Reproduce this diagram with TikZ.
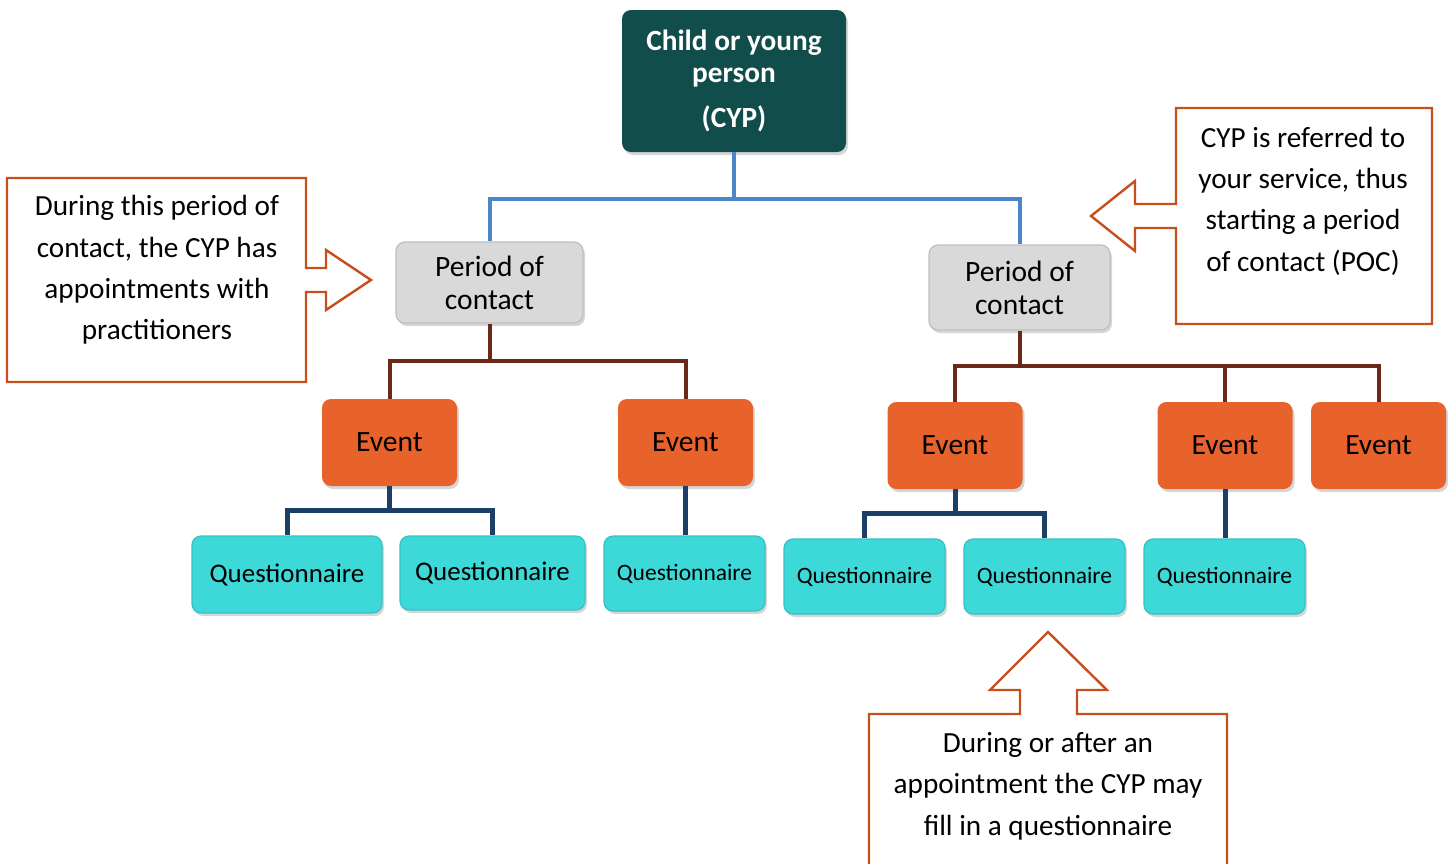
\documentclass[tikz,border=0pt]{standalone}
\usepackage{fontspec}
\setmainfont{Carlito}
\usetikzlibrary{shadows}
\definecolor{cyp}{HTML}{114D4B}
\definecolor{linkblue}{HTML}{4A86C8}
\definecolor{pocfill}{HTML}{D9D9D9}
\definecolor{pocdraw}{HTML}{BFBFBF}
\definecolor{linkbrown}{HTML}{6B2818}
\definecolor{evfill}{HTML}{E8632B}
\definecolor{linkdark}{HTML}{1B3F66}
\definecolor{qfill}{HTML}{3DD8D8}
\definecolor{qdraw}{HTML}{35C2C6}
\definecolor{callout}{HTML}{C5501E}
\tikzset{
  base/.style={rounded corners=9pt, inner sep=0pt, align=center,
    drop shadow={shadow xshift=2pt, shadow yshift=-3pt, opacity=0.35, fill=black!45}},
  cypbox/.style={base, fill=cyp, text=white, minimum width=224pt, minimum height=142pt,
    font=\fontsize{29.3}{32}\selectfont\bfseries},
  pocbox/.style={base, fill=pocfill, draw=pocdraw, line width=1.2pt,
    font=\fontsize{29.5}{33}\selectfont},
  evbox/.style={base, fill=evfill, minimum width=135pt, minimum height=87pt,
    font=\fontsize{29.5}{30}\selectfont},
  qbox/.style={base, fill=qfill, draw=qdraw, line width=1.2pt,
    font=\fontsize{26.9}{30}\selectfont},
  qsmall/.style={qbox, minimum width=161pt, minimum height=75pt,
    font=\fontsize{23.5}{26}\selectfont},
  calloutline/.style={draw=callout, line width=2.4pt, line join=miter},
  callouttext/.style={align=center, inner sep=0pt, font=\fontsize{29.2}{41.3}\selectfont},
  bluelink/.style={draw=linkblue, line width=4pt},
  brownlink/.style={draw=linkbrown, line width=4pt},
  darklink/.style={draw=linkdark, line width=5pt}
}
\begin{document}
\begin{tikzpicture}[x=1pt,y=-1pt]
\useasboundingbox (0,0) rectangle (1453,863);
\clip (0,0) rectangle (1453,863);
\fill[white] (0,0) rectangle (1453,863);

% callouts
\draw[calloutline] (7,178) -- (306,178) -- (306,268) -- (326,268) -- (326,250) -- (371,280)
  -- (326,310) -- (326,292) -- (306,292) -- (306,382) -- (7,382) -- cycle;
\node[callouttext] (lefttext) at (157,270) {During this period of\\contact, the CYP has\\appointments with\\practitioners};

\draw[calloutline] (1176,108) -- (1432,108) -- (1432,324) -- (1176,324) -- (1176,228) -- (1135,228)
  -- (1135,251) -- (1091,216) -- (1135,181) -- (1135,204) -- (1176,204) -- cycle;
\node[callouttext] (righttext) at (1303,201) {CYP is referred to\\your service, thus\\starting a period\\of contact (POC)};

\draw[calloutline] (869,880) -- (869,714) -- (1020,714) -- (1020,690) -- (990,690) -- (1048,632)
  -- (1107,690) -- (1077,690) -- (1077,714) -- (1227,714) -- (1227,880);
\node[callouttext] (bottomtext) at (1048,786) {During or after an\\appointment the CYP may\\fill in a questionnaire};

% nodes
\node[cypbox] (cyp) at (734,81) {Child or young\\person\\[13pt](CYP)};

\node[pocbox, minimum width=187pt, minimum height=81pt] (poc1) at (489.5,282.5) {Period of\\contact};
\node[pocbox, minimum width=181pt, minimum height=85pt] (poc2) at (1019.5,287.5) {Period of\\contact};

\node[evbox] (ev1) at (389.5,442.5) {Event};
\node[evbox] (ev2) at (685.5,442.5) {Event};
\node[evbox] (ev3) at (955,445.5) {Event};
\node[evbox] (ev4) at (1225,445.5) {Event};
\node[evbox] (ev5) at (1378.5,445.5) {Event};

\node[qbox, minimum width=190pt, minimum height=77pt] (q1) at (287,574.5) {Questionnaire};
\node[qbox, minimum width=185pt, minimum height=74pt] (q2) at (492.5,573) {Questionnaire};
\node[qsmall] (q3) at (684.5,573.5) {Questionnaire};
\node[qsmall] (q4) at (864.5,576.5) {Questionnaire};
\node[qsmall] (q5) at (1044.5,576.5) {Questionnaire};
\node[qsmall] (q6) at (1224.5,576.5) {Questionnaire};

% connectors
\coordinate (cypj) at (734,199);
\draw[bluelink] (cyp.south) -- (cypj);
\draw[bluelink] (cypj) -| (poc1.north);
\draw[bluelink] (cypj) -| (poc2.north);

\coordinate (poc1j) at (489.5,361);
\draw[brownlink] (poc1.south) -- (poc1j);
\draw[brownlink] (poc1j) -| (ev1.north);
\draw[brownlink] (poc1j) -| (ev2.north);

\coordinate (poc2j) at (1019.5,366);
\draw[brownlink] (poc2.south) -- (poc2j);
\draw[brownlink] (poc2j) -| (ev3.north);
\draw[brownlink] (poc2j) -| (ev4.north);
\draw[brownlink] (poc2j) -| (ev5.north);

\coordinate (ev1j) at (389.5,510);
\draw[darklink] (ev1.south) -- (ev1j);
\draw[darklink] (ev1j) -| (q1.north);
\draw[darklink] (ev1j) -| (q2.north);
\draw[darklink] (ev2.south) -- (ev2.south |- q3.north);

\coordinate (ev3j) at (955,513);
\draw[darklink] (ev3.south) -- (ev3j);
\draw[darklink] (ev3j) -| (q4.north);
\draw[darklink] (ev3j) -| (q5.north);
\draw[darklink] (ev4.south) -- (ev4.south |- q6.north);
\end{tikzpicture}
\end{document}
